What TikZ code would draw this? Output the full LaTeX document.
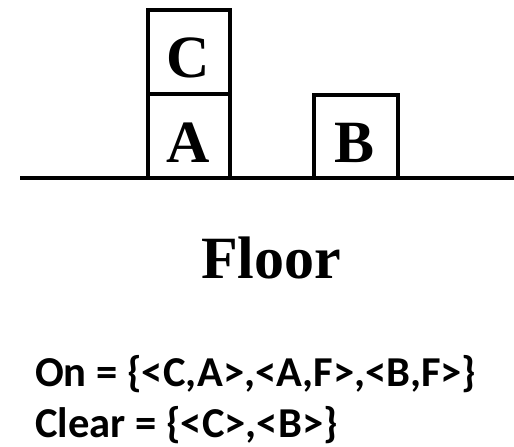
\documentclass[tikz,border=0pt]{standalone}
\usepackage{fontspec}
\newfontfamily\blockfont{Liberation Serif}
\newfontfamily\textfontB{Carlito}
\begin{document}
\begin{tikzpicture}[x=1pt,y=-1pt,
  blockline/.style={draw=black,line width=4.6pt},
  blocklabel/.style={anchor=base,inner sep=0pt,font=\blockfont\bfseries\fontsize{60}{60}\selectfont},
  factline/.style={anchor=base west,inner sep=0pt,font=\textfontB\bfseries\fontsize{42.6}{52}\selectfont}]
\useasboundingbox (0,0) rectangle (514,447);
% blocks
\draw[blockline] (148,94) -- (148,10) -- (230,10) -- (230,94);
\draw[blockline] (148,178) rectangle (230,94);
\draw[blockline] (314,178) -- (314,95) -- (398,95) -- (398,178);
% floor
\coordinate (fl) at (20,178);
\coordinate (fr) at (514,178);
\draw[blockline] (fl) -- (fr);
% labels
\node[blocklabel] (c) at (188,77) {C};
\node[blocklabel] (a) at (188.5,162) {A};
\node[blocklabel] (b) at (355,162) {B};
\node[blocklabel] (floor) at (271,278) {Floor};
\node[factline] (on) at (35,386) {On = \{<C,A>,<A,F>,<B,F>\}};
\node[factline] (clear) at (35,437) {Clear = \{<C>,<B>\}};
\end{tikzpicture}
\end{document}
